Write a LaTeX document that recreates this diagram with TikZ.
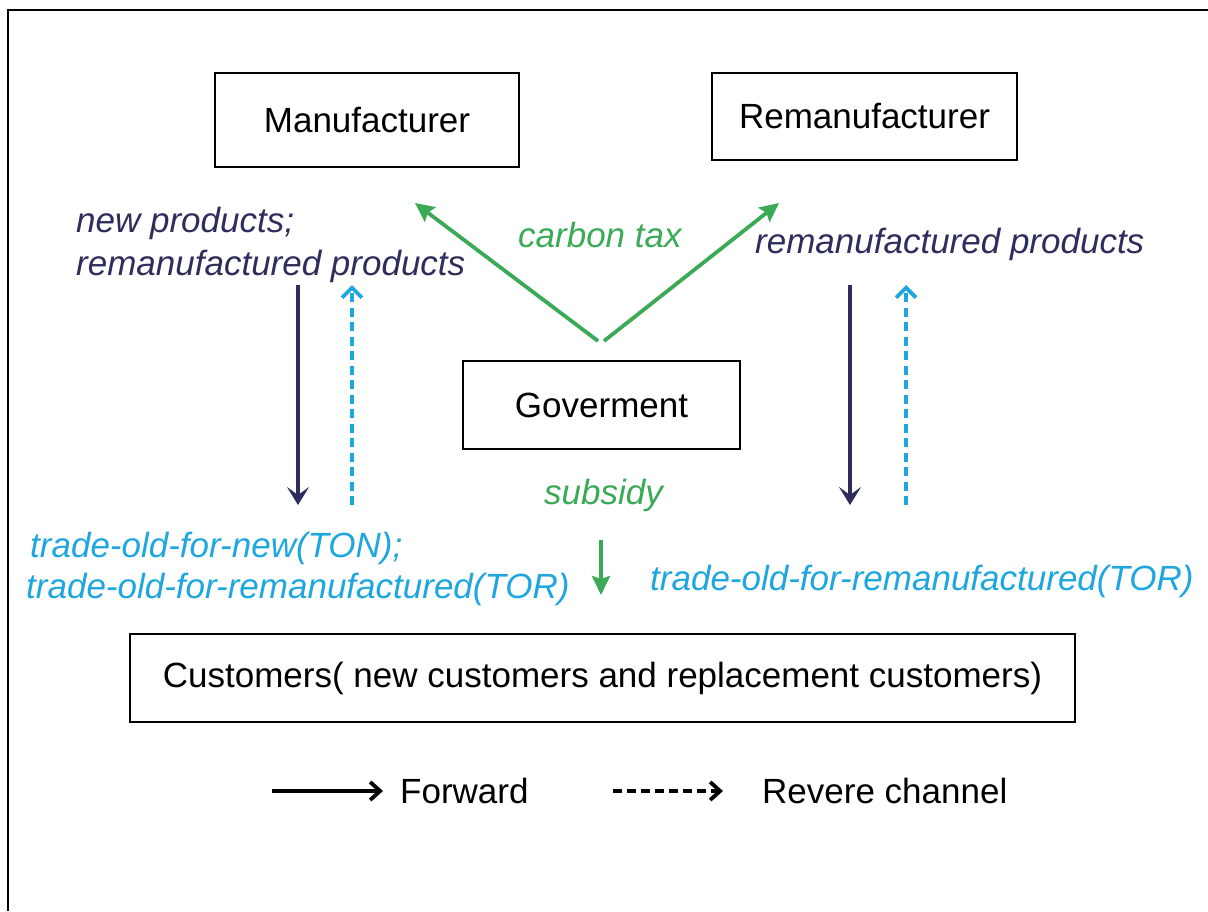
\documentclass[tikz,border=0pt]{standalone}
\usepackage{fontspec}
\setmainfont{Liberation Sans}
\usetikzlibrary{arrows.meta}
\definecolor{navy}{HTML}{2E2D5C}
\definecolor{sky}{HTML}{1EA7DF}
\definecolor{grn}{HTML}{3BAA57}
\begin{document}
\begin{tikzpicture}[x=1pt,y=-1pt,
  every node/.style={inner sep=0pt},
  box/.style={draw, line width=2.4pt, font=\fontsize{35}{42}\selectfont},
  lbl/.style={anchor=base west, font=\fontsize{35}{42}\selectfont\itshape},
  fwd/.style={navy, line width=3.8pt, -{Stealth[length=18pt,width=22pt,inset=8pt]}},
  rev/.style={sky, line width=3.8pt, dash pattern=on 9pt off 5.5pt, -{Straight Barb[length=10pt,width=20pt,line width=3.8pt]}},
  gov/.style={grn, line width=3.8pt, -{Stealth[length=19pt,width=18pt,inset=3pt]}},
  legsolid/.style={black, line width=3.8pt, -{Straight Barb[length=10pt,width=18pt,line width=3.8pt]}},
  legdash/.style={black, line width=3.8pt, dash pattern=on 9pt off 5pt, -{Straight Barb[length=10pt,width=18pt,line width=3.8pt]}},
  legtxt/.style={anchor=base west, font=\fontsize{35}{42}\selectfont}
]
\useasboundingbox (0,0) rectangle (1208,911);
% frame
\draw[line width=2.4pt] (8,911) -- (8,10) -- (1208,10);

% boxes
\node[box, minimum width=304pt, minimum height=94pt] (man) at (367,120) {Manufacturer};
\node[box, minimum width=305pt, minimum height=87pt] (rem) at (864.5,116.5) {Remanufacturer};
\node[box, minimum width=277pt, minimum height=88pt] (gov) at (601.5,405) {Goverment};
\node[box, minimum width=945pt, minimum height=88pt] (cus) at (602.5,678) {Customers( new customers and replacement customers)};

% labels
\node[lbl, navy] (np1) at (76,232) {new products;};
\node[lbl, navy] (np2) at (76,275) {remanufactured products};
\node[lbl, navy] (rp) at (755,253) {remanufactured products};
\node[lbl, grn] (ct) at (518,247) {carbon tax};
\node[lbl, grn] (sub) at (544,504) {subsidy};
\node[lbl, sky] (ton) at (30,557) {trade-old-for-new(TON);};
\node[lbl, sky] (tor1) at (26,598) {trade-old-for-remanufactured(TOR)};
\node[lbl, sky] (tor2) at (650,590) {trade-old-for-remanufactured(TOR)};

% arrow end points
\coordinate (g1) at (598,341); \coordinate (m1) at (415,203);
\coordinate (g2) at (604,341); \coordinate (r1) at (779,203);
\coordinate (la) at (298,285); \coordinate (lb) at (298,505);
\coordinate (lc) at (352,505); \coordinate (ld) at (352,285);
\coordinate (ra) at (850,285); \coordinate (rb) at (850,505);
\coordinate (rc) at (906,505); \coordinate (rd) at (906,285);
\coordinate (sa) at (601,540); \coordinate (sb) at (601,595);

\draw[gov] (g1) -- (m1);
\draw[gov] (g2) -- (r1);
\draw[fwd] (la) -- (lb);
\draw[rev] (lc) -- (ld);
\draw[fwd] (ra) -- (rb);
\draw[rev] (rc) -- (rd);
\draw[gov] (sa) -- (sb);

% legend
\coordinate (f1) at (272,791); \coordinate (f2) at (383,791);
\coordinate (d1) at (613,791); \coordinate (d2) at (723,791);
\draw[legsolid] (f1) -- (f2);
\draw[legdash] (d1) -- (d2);
\node[legtxt] (fw) at (400,803) {Forward};
\node[legtxt] (rv) at (762,803) {Revere channel};
\end{tikzpicture}
\end{document}
